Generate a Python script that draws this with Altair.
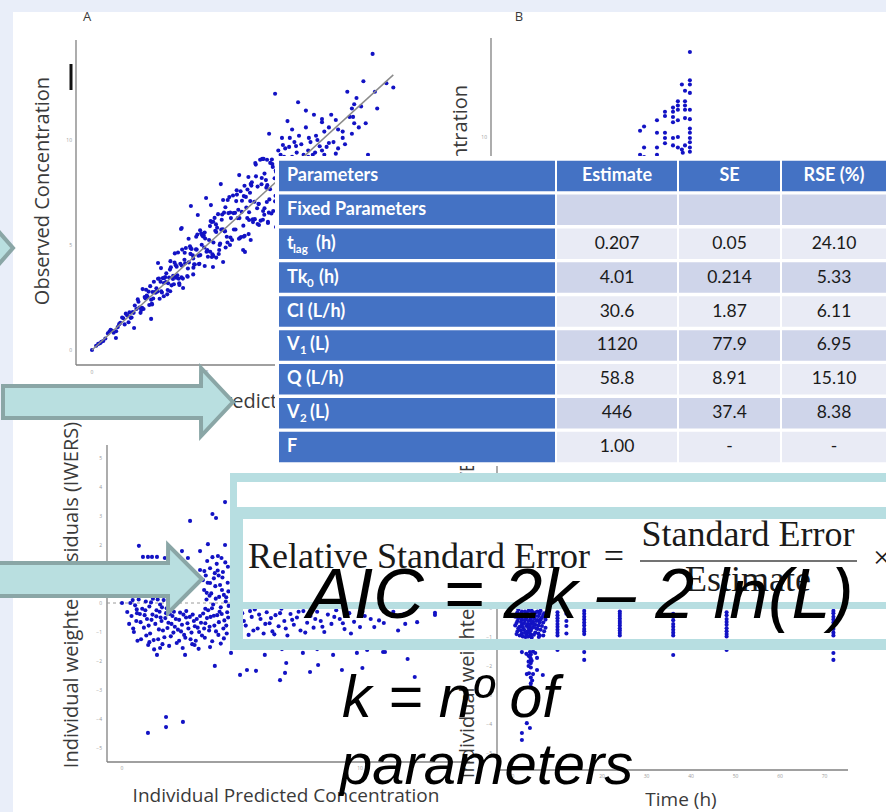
import altair as alt
import pandas as pd

W, H = 886, 812

# ------------------------------------------------------------------ data
# Panel A: observed vs individual predicted concentration (pred, obs)
a_outliers = [
    (0.00, 0.00), (1.04, 0.57), (1.83, 1.05), (2.57, 1.48), (2.87, 4.14), (3.13, 3.19), (3.65, 3.48), (3.87, 5.76),
    (3.90, 5.81), (3.96, 2.95), (4.30, 6.86), (4.60, 6.43), (4.96, 7.24), (5.17, 6.90), (5.26, 3.95), (5.27, 4.48),
    (5.60, 7.90), (5.70, 4.19), (5.70, 7.14), (6.40, 8.33), (6.43, 5.33), (6.57, 4.76), (6.65, 4.67), (6.80, 8.24),
    (6.83, 6.19), (6.90, 5.24), (7.10, 8.90), (7.26, 5.95), (7.40, 9.10), (7.43, 6.20), (7.60, 7.05), (7.65, 6.05),
    (7.65, 6.10), (8.00, 5.86), (8.00, 8.49),
]
a_band_1 = [
    (0.27, 0.29), (0.49, 0.43), (0.81, 0.96), (1.12, 1.09), (1.36, 1.51), (1.59, 1.32), (1.77, 1.81), (2.02, 2.30),
    (2.18, 2.01), (2.35, 2.87), (2.49, 2.14), (2.63, 2.76), (2.76, 2.73), (2.91, 3.40), (3.04, 2.74), (3.18, 3.47),
    (3.27, 2.65), (3.39, 3.83), (3.53, 3.53), (3.66, 3.44), (3.74, 4.64), (3.89, 3.46), (4.02, 4.30), (4.14, 3.52),
    (4.26, 4.94), (4.38, 4.51), (4.47, 4.07), (4.58, 5.50), (4.71, 4.52), (4.83, 5.41), (4.92, 5.31), (5.04, 4.44),
    (5.16, 6.14), (5.28, 5.12), (5.39, 5.98), (5.51, 4.57), (5.62, 5.73), (5.74, 6.54), (5.86, 5.39), (5.97, 7.28),
    (6.09, 5.24), (6.22, 6.53), (6.34, 6.28), (6.46, 7.56), (6.58, 5.92), (6.69, 7.29), (6.81, 5.52), (6.93, 7.83),
    (7.06, 7.06), (7.18, 6.75), (7.31, 9.06), (7.44, 6.62), (7.56, 8.09), (7.69, 6.54), (7.82, 9.07), (7.94, 8.18),
]
a_band_2 = [
    (0.41, 0.39), (0.69, 0.79), (0.94, 0.82), (1.23, 1.30), (1.47, 1.73), (1.68, 1.53), (1.93, 1.95), (2.11, 1.77),
    (2.29, 2.52), (2.42, 2.52), (2.57, 2.39), (2.69, 3.25), (2.84, 2.78), (2.98, 3.25), (3.12, 2.56), (3.23, 3.65),
    (3.35, 3.45), (3.46, 3.08), (3.59, 4.16), (3.71, 3.56), (3.84, 4.11), (3.95, 3.40), (4.08, 4.86), (4.21, 4.17),
    (4.33, 4.81), (4.44, 4.08), (4.55, 4.78), (4.67, 4.11), (4.79, 5.46), (4.88, 4.88), (5.01, 4.76), (5.13, 5.90),
    (5.24, 4.56), (5.36, 5.68), (5.48, 6.47), (5.57, 5.07), (5.69, 5.75), (5.81, 4.88), (5.93, 6.52), (6.04, 6.28),
    (6.17, 5.74), (6.29, 7.61), (6.41, 6.28), (6.52, 7.11), (6.64, 5.44), (6.76, 7.64), (6.88, 7.09), (6.99, 6.22),
    (7.13, 8.27), (7.24, 6.95), (7.37, 7.89), (7.49, 6.44), (7.61, 9.06), (7.74, 7.66), (7.86, 8.72), (7.98, 7.34),
]
a_band_3 = [
    (0.18, 0.20), (0.58, 0.55), (0.88, 0.91), (1.05, 0.89), (1.31, 1.55), (1.53, 1.64), (1.72, 1.55), (1.86, 2.12),
    (2.06, 2.02), (2.24, 1.95), (2.38, 2.59), (2.53, 3.04), (2.66, 2.45), (2.80, 2.94), (2.94, 2.44), (3.08, 3.42),
    (3.21, 3.24), (3.31, 3.18), (3.43, 3.94), (3.56, 3.13), (3.68, 3.97), (3.79, 3.18), (3.92, 4.78), (4.05, 4.13),
    (4.17, 3.88), (4.29, 4.85), (4.41, 3.92), (4.52, 4.79), (4.63, 4.49), (4.75, 5.56), (4.86, 5.44), (4.98, 4.68),
    (5.09, 5.24), (5.21, 4.43), (5.33, 6.29), (5.44, 5.82), (5.55, 5.00), (5.66, 6.45), (5.78, 5.66), (5.89, 5.12),
    (6.01, 6.55), (6.13, 7.36), (6.24, 5.74), (6.36, 6.68), (6.48, 5.38), (6.60, 7.33), (6.71, 6.78), (6.83, 6.56),
    (6.95, 7.99), (7.08, 6.23), (7.20, 7.78), (7.33, 6.16), (7.46, 9.10), (7.58, 7.73), (7.71, 7.17), (7.84, 8.86),
    (7.96, 7.08),
    (2.20, 2.90), (2.60, 2.20), (3.00, 3.90), (3.40, 2.80), (3.60, 4.60), (3.80, 3.10), (4.20, 5.30), (4.40, 3.60),
    (4.70, 5.70), (4.90, 4.00), (5.20, 6.10), (5.40, 4.40), (5.80, 6.80), (6.00, 5.00), (6.30, 7.40), (6.60, 5.40),
    (6.90, 7.90), (7.20, 6.00), (7.50, 8.40), (7.80, 6.50),
]
a_band_4 = [
    (0.35, 0.32), (0.76, 0.88), (1.18, 1.23), (1.42, 1.22), (1.63, 1.79), (1.81, 1.77), (1.99, 2.41), (2.14, 1.90),
    (2.32, 2.46), (2.46, 2.78), (2.61, 2.17), (2.73, 2.76), (2.87, 3.39), (3.01, 2.80), (3.15, 3.43), (3.29, 2.86),
    (3.41, 4.23), (3.52, 3.38), (3.64, 4.04), (3.77, 3.39), (3.90, 4.02), (4.03, 4.63), (4.16, 3.49), (4.28, 4.58),
    (4.40, 4.36), (4.53, 5.39), (4.65, 4.09), (4.77, 5.01), (4.90, 5.59), (5.02, 4.72), (5.14, 4.68), (5.27, 6.11),
    (5.40, 5.62), (5.53, 4.76), (5.64, 6.20), (5.77, 5.65), (5.90, 7.14), (6.02, 5.36), (6.15, 6.52), (6.27, 7.09),
    (6.39, 5.30), (6.51, 6.58), (6.63, 7.82), (6.75, 6.28), (6.87, 7.49), (7.00, 6.09), (7.12, 8.83), (7.25, 6.96),
    (7.38, 8.19), (7.50, 6.75), (7.62, 7.85), (7.75, 8.91), (7.88, 6.62), (7.99, 8.55),
]
a_upper = [
    (7.96, 12.20), (8.96, 11.80), (9.30, 11.40), (9.65, 11.20), (10.00, 11.00), (10.00, 10.85), (10.40, 11.20),
    (10.60, 10.95), (11.10, 12.30), (11.50, 12.00), (11.80, 12.80), (12.20, 14.10), (12.80, 12.70), (13.10, 12.50),
    (12.30, 12.30), (11.30, 11.50), (11.40, 11.70), (11.70, 11.60), (12.40, 11.50), (11.20, 11.10), (11.35, 11.10),
    (11.90, 10.80), (11.40, 10.80), (8.50, 10.90), (8.70, 10.50), (9.30, 10.60), (7.70, 10.30), (8.26, 10.10),
    (8.60, 10.10), (9.00, 10.20), (9.43, 10.10), (9.74, 10.20), (10.10, 10.40), (10.30, 10.60), (10.70, 10.50),
    (10.90, 10.10), (8.30, 9.76), (8.57, 9.67), (8.87, 9.71), (10.30, 9.86), (10.50, 9.90), (10.70, 9.60),
    (10.20, 9.67), (9.40, 9.50), (9.70, 9.40), (9.20, 9.30), (9.40, 9.20), (8.20, 9.30), (8.35, 9.20),
    (8.70, 9.20), (12.00, 9.30), (10.10, 9.30), (8.10, 9.50), (8.40, 9.60), (8.80, 9.90), (9.10, 9.80),
    (9.50, 9.90), (9.90, 9.70), (10.00, 9.50), (9.60, 9.30), (8.90, 9.40), (9.80, 10.00), (10.60, 9.35),
    (11.00, 9.80), (11.30, 10.30), (11.60, 10.60), (10.90, 10.40),
]
a_identity = [0.0, 13.1]

# Panel B: concentration vs time (h, conc)
b_points = [
    (41.1, 14.05), (41.1, 12.7), (41.1, 12.5), (39.3, 12.5), (40.0, 12.2), (41.1, 12.1), (38.4, 11.7), (38.4, 11.5),
    (40.0, 11.7), (40.0, 11.5), (37.3, 11.4), (37.3, 11.2), (38.4, 11.3), (40.0, 11.3), (41.1, 11.3), (35.5, 11.2),
    (35.5, 11.0), (33.7, 10.8), (37.3, 10.95), (37.3, 10.7), (38.4, 10.8), (40.0, 10.9), (41.1, 10.85), (30.8, 10.5),
    (29.9, 10.3), (33.7, 10.2), (35.5, 10.2), (35.5, 9.95), (35.5, 9.7), (37.3, 9.95), (38.4, 10.0), (41.1, 10.4),
    (41.1, 10.2), (41.1, 9.95), (41.1, 9.75), (30.8, 9.5), (33.7, 9.5), (33.7, 9.15), (37.3, 9.6), (38.4, 9.5),
    (39.3, 9.4), (40.0, 9.6), (41.1, 9.5), (41.1, 9.3), (39.5, 9.25), (29.9, 9.15), (30.8, 9.05),
]

# Panel C: IWRES vs individual predicted concentration
c_upper = [
    (4.33, 3.48), (3.80, 3.07), (3.95, 2.93), (2.86, 2.83), (0.71, 1.97), (0.88, 1.59), (1.09, 1.59), (1.26, 1.59),
    (1.47, 1.59), (2.52, 1.79), (3.28, 1.79), (3.61, 2.03), (4.33, 2.00), (4.03, 1.62), (1.80, 1.55), (2.10, 1.69),
    (2.77, 1.55), (3.70, 1.20), (3.90, 1.03), (4.24, 1.07), (3.28, 1.14), (3.40, 0.79), (3.70, 0.69), (0.55, 1.25),
    (1.20, 1.10), (2.30, 1.30), (2.95, 1.02),
    (3.45, 0.45), (3.55, 0.12), (3.62, -0.25), (3.75, 0.33), (3.83, -0.05), (3.92, 0.58), (4.00, -0.42), (4.08, 0.21),
    (4.15, -0.15), (4.22, 0.88), (4.30, -0.60), (4.36, 0.05), (4.42, -0.32), (4.47, 0.40), (3.50, -0.70), (3.66, -0.95),
    (3.88, -0.78), (4.05, -1.10), (4.26, -0.88), (4.40, -1.05), (3.58, 1.45), (3.98, 1.35), (4.18, 1.55), (4.45, 1.25),
    (3.72, -0.48), (4.12, 0.62), (3.52, 0.95),
    (3.46, 1.10), (3.60, 0.70), (3.68, 0.25), (3.78, -0.18), (3.86, 0.85), (3.94, 0.15), (4.02, 1.12), (4.10, -0.30),
    (4.20, 0.45), (4.28, 0.28), (4.34, 1.40), (4.44, 0.70), (4.48, -0.10), (3.56, 0.35), (3.80, 1.58), (4.06, 0.95),
    (4.38, 0.20), (3.50, -0.20),
]
c_left = [
    (0.00, 0.00), (0.35, 0.00), (0.55, -0.08), (0.70, 0.12), (0.85, -0.20), (1.00, 0.05), (1.15, -0.12), (1.30, 0.15),
    (1.45, -0.25), (1.60, -0.05), (1.75, 0.10), (1.88, -0.18), (0.40, -0.45), (0.60, -0.62), (0.75, -0.38), (0.92, -0.85),
    (1.05, -0.55), (1.18, -1.05), (1.28, -0.40), (1.40, -0.72), (1.52, -1.25), (1.62, -0.50), (1.72, -0.95), (1.85, -0.35),
    (1.95, -0.68), (2.05, -1.15), (2.12, -0.45), (2.22, -0.82), (2.30, -1.38), (2.40, -0.58), (2.48, -0.98), (2.58, -0.40),
    (2.66, -1.20), (2.75, -0.70), (2.85, -0.48), (2.92, -1.02), (3.02, -0.62), (3.10, -1.30), (3.18, -0.85), (3.28, -0.45),
    (3.36, -1.12), (0.50, -1.00), (0.80, -1.25), (1.10, -1.45), (1.35, -1.60), (1.98, -1.48), (2.55, -1.55), (2.95, -1.42),
    (3.22, -1.58), (0.30, -0.72), (1.58, -0.30), (2.18, -0.30), (2.70, -0.28), (3.45, -0.88),
    (0.22, -0.31), (0.47, -0.88), (0.63, -0.35), (0.78, -0.66), (0.95, -0.42), (1.02, -1.12), (1.12, -0.78), (1.24, -0.58),
    (1.33, -1.28), (1.44, -0.46), (1.55, -0.91), (1.66, -0.62), (1.78, -1.18), (1.82, -0.52), (1.91, -0.86), (2.01, -0.38),
    (2.08, -0.72), (2.16, -1.02), (2.26, -0.55), (2.35, -0.92), (2.44, -0.33), (2.52, -0.75), (2.61, -1.10), (2.69, -0.50),
    (2.79, -0.88), (2.88, -1.25), (2.97, -0.40), (3.06, -0.80), (3.14, -0.55), (3.24, -1.00), (3.32, -0.68), (3.41, -0.36),
    (3.48, -1.20), (3.57, -0.52), (3.68, -0.82), (3.79, -1.32), (3.86, -0.44), (3.95, -0.98), (4.07, -0.66), (4.19, -0.38),
    (4.28, -1.22), (4.38, -0.78), (4.46, -0.50), (1.15, -1.35), (1.70, -1.42), (2.40, -1.30), (3.05, -1.45), (3.70, -1.52),
    (4.15, -1.40), (0.65, -1.30), (0.45, 0.10), (0.62, -0.22), (0.98, -0.25), (1.22, 0.02), (1.50, 0.12), (1.68, -0.15),
]
c_right = [
    (4.65, -0.25), (4.80, -0.60), (4.95, -0.95), (5.05, -0.35), (5.20, -0.78), (5.32, -1.10), (5.45, -0.48), (5.58, -0.22),
    (5.70, -0.88), (5.82, -0.55), (5.95, -1.05), (6.08, -0.32), (6.20, -0.70), (6.32, -0.98), (6.45, -0.42), (6.58, -0.80),
    (6.70, -0.20), (6.82, -0.62), (6.95, -1.12), (7.08, -0.38), (7.22, -0.75), (7.35, -0.50), (7.50, -0.95), (7.62, -0.28),
    (7.78, -0.68), (7.92, -0.45), (8.05, -0.85), (8.20, -0.30), (8.35, -0.62), (8.50, -1.00), (8.65, -0.40), (8.80, -0.72),
    (9.00, -0.25), (9.15, -0.55), (9.35, -0.90), (9.55, -0.35), (9.75, -0.65), (10.00, -0.83), (10.20, -0.45), (10.60, -0.83),
    (11.00, -0.69), (11.40, -0.30), (11.85, -0.38), (11.90, -0.72), (12.40, -0.66), (13.15, -0.34), (13.15, -0.41), (10.45, -0.55),
    (4.72, -0.45), (4.88, -1.05), (5.12, -0.62), (5.38, -0.28), (5.52, -0.95), (5.76, -0.40), (6.02, -0.72), (6.26, -0.52),
    (6.40, -1.08), (6.64, -0.35), (6.88, -0.88), (7.15, -0.58), (7.42, -0.30), (7.70, -1.02), (8.12, -0.55), (8.42, -0.82),
    (8.92, -0.48), (9.28, -0.70), (9.62, -1.05), (10.10, -0.30), (10.80, -0.60), (11.60, -0.95),
]
c_lower = [
    (1.09, -4.48), (1.85, -3.93), (1.85, -4.28), (2.56, -4.10), (3.90, -2.17), (4.96, -2.48), (5.25, -2.31), (5.63, -2.34),
    (6.64, -2.66), (6.85, -2.41), (6.90, -2.07), (7.90, -2.38), (8.24, -2.14), (9.24, -2.31), (10.10, -2.24), (12.30, -2.55),
    (12.00, -1.93), (1.60, -1.55), (1.47, -1.79), (2.65, -1.79), (4.58, -1.72), (6.00, -1.79), (6.72, -1.59), (7.60, -1.72),
    (8.20, -1.59), (8.87, -1.79), (9.87, -1.72), (10.30, -1.62), (10.97, -1.69), (11.05, -1.69),
]

# Panel D: IWRES vs time (h)
d_early = [
    (1.0, -0.15), (1.0, -0.45), (1.0, -0.80), (1.5, -0.30), (1.5, -0.65), (1.5, -0.95), (2.0, -0.12), (2.0, -0.40),
    (2.0, -0.58), (2.0, -0.88), (2.5, -0.25), (2.5, -0.52), (2.5, -0.75), (3.0, -0.18), (3.0, -0.35), (3.0, -0.62),
    (3.0, -0.90), (3.5, -0.10), (3.5, -0.45), (3.5, -0.70), (3.5, -0.98), (4.0, -0.22), (4.0, -0.38), (4.0, -0.55),
    (4.0, -0.78), (4.0, -0.92), (4.5, -0.15), (4.5, -0.48), (4.5, -0.66), (5.0, -0.28), (5.0, -0.58), (5.0, -0.85),
    (5.5, -0.12), (5.5, -0.42), (5.5, -0.72), (6.0, -0.20), (6.0, -0.50), (6.0, -0.95), (6.5, -0.33), (6.5, -0.62),
    (7.0, -0.18), (7.0, -0.80), (0.5, -0.30), (0.5, -0.60), (1.2, -0.05), (2.8, -1.00), (4.2, -1.02), (5.8, -1.00),
    (3.3, -0.80), (4.8, -0.35),
    (0.8, -0.22), (0.8, -0.52), (0.8, -0.90), (1.2, -0.35), (1.2, -0.70), (1.8, -0.20), (1.8, -0.48), (1.8, -0.78),
    (2.2, -0.30), (2.2, -0.66), (2.2, -0.98), (2.7, -0.12), (2.7, -0.42), (2.7, -0.85), (3.2, -0.25), (3.2, -0.55),
    (3.2, -0.98), (3.7, -0.30), (3.7, -0.60), (3.7, -0.85), (4.2, -0.10), (4.2, -0.46), (4.2, -0.70), (4.7, -0.25),
    (4.7, -0.56), (4.7, -0.92), (5.2, -0.15), (5.2, -0.45), (5.2, -0.70), (5.7, -0.28), (5.7, -0.60), (5.7, -0.88),
    (6.2, -0.10), (6.2, -0.40), (6.2, -0.75), (6.8, -0.25), (6.8, -0.50), (6.8, -0.95), (7.3, -0.40), (7.3, -0.68),
    (2.0, -1.52), (3.8, -1.52), (5.4, -1.72), (5.4, -2.14), (3.1, -2.28), (4.5, -2.28), (6.7, -2.31), (3.1, -3.97),
    (3.8, -4.14), (2.0, -4.31), (2.0, -4.55), (4.0, -1.60), (4.0, -1.75), (4.0, -1.90), (4.0, -2.05), (4.0, -2.40),
    (4.0, -2.60), (4.0, -2.72), (3.5, -1.65), (3.5, -1.85), (3.5, -2.00), (4.5, -1.50), (3.0, -1.58), (5.0, -1.55),
    (3.8, -1.68), (4.2, -1.82), (3.6, -2.25), (4.3, -2.50),
]
d_late = [
    (10, -0.15), (10, -0.25), (10, -0.35), (10, -0.45), (10, -0.55), (10, -0.65), (10, -0.75), (10, -0.85),
    (10, -0.95), (10, -1.45),
    (12, -0.20), (12, -0.45), (12, -0.62), (12, -0.88),
    (16, -0.10), (16, -0.20), (16, -0.30), (16, -0.40), (16, -0.50), (16, -0.60), (16, -0.72), (16, -0.80),
    (16, -0.90), (16, -1.52), (16, -1.79),
    (24, -0.12), (24, -0.20), (24, -0.28), (24, -0.36), (24, -0.45), (24, -0.52), (24, -0.60), (24, -0.70),
    (24, -0.78), (24, -0.86), (24, -0.95),
    (36, -0.20), (36, -0.30), (36, -0.42), (36, -0.55), (36, -0.65), (36, -0.75), (36, -0.85), (36, -0.95),
    (36, -1.62),
    (48, -0.15), (48, -0.25), (48, -0.38), (48, -0.48), (48, -0.58), (48, -0.70), (48, -0.80), (48, -0.90),
    (48, -0.98), (48, -1.45),
    (72, -0.10), (72, -0.18), (72, -0.30), (72, -0.40), (72, -0.50), (72, -0.62), (72, -0.72), (72, -0.85),
    (72, -0.95), (72, -1.55), (72, -1.79),
]

a_xticks = [0, 5]
a_yticks = [0, 5, 10]
b_yticks = [10]
c_xticks = [0, 10]
c_yticks = [5, 4, 3, 2, 1, 0, -1, -2, -3, -4, -5]
d_xticks = [0, 10, 20, 30, 40, 50, 60, 70]
d_yticks = [0, -1, -2, -3, -4, -5]

# parameter table
param_main = ["Parameters", "Fixed Parameters", "t", "Tk", "Cl (L/h)", "V", "Q (L/h)", "V", "F"]
param_sub = ["", "", "lag", "0", "", "1", "", "2", ""]
param_tail = ["", "", "(h)", "(h)", "", "(L)", "", "(L)", ""]
col_estimate = ["Estimate", "", "0.207", "4.01", "30.6", "1120", "58.8", "446", "1.00"]
col_se = ["SE", "", "0.05", "0.214", "1.87", "77.9", "8.91", "37.4", "-"]
col_rse = ["RSE (%)", "", "24.10", "5.33", "6.11", "6.95", "15.10", "8.38", "-"]

# ------------------------------------------------------------------ styles
BG = "#E9EEF9"
PT = "#1212C4"
AX = "#808080"
TICK = "#9a9a9a"
LAB = "#3a3a3a"
TEAL = "#B7DEE1"
ARROW_FILL = "#B9DFE0"
ARROW_STROKE = "#8AA6A6"
TBL_BLUE = "#4472C4"
UIF = "Open Sans"
TF = "Lato"
SERIF = "Liberation Serif"

one = pd.DataFrame({"k": [0]})


def rect(x0, x1, y0, y1, color):
    return alt.Chart(one).mark_rect(color=color).encode(
        x=alt.value(x0), x2=alt.value(x1), y=alt.value(y0), y2=alt.value(y1))


def rule(x0, x1, y0, y1, color, width=1.0):
    return alt.Chart(one).mark_rule(color=color, strokeWidth=width).encode(
        x=alt.value(x0), x2=alt.value(x1), y=alt.value(y0), y2=alt.value(y1))


def text(s, x, y, size, color=LAB, font=UIF, angle=0, align="center",
         baseline="middle", weight="normal", style="normal"):
    return alt.Chart(one).mark_text(
        text=s, font=font, fontSize=size, color=color, angle=angle, align=align,
        baseline=baseline, fontWeight=weight, fontStyle=style
    ).encode(x=alt.value(x), y=alt.value(y))


def sc(domain, rng):
    return alt.Scale(domain=domain, range=rng, nice=False, zero=False)


def scatter(points, xs, ys):
    df = pd.DataFrame(points, columns=["px", "py"])
    return alt.Chart(df).mark_circle(size=17, color=PT, opacity=1).encode(
        x=alt.X("px:Q", scale=xs, axis=None), y=alt.Y("py:Q", scale=ys, axis=None))


def xtick_labels(ticks, xs, ypix):
    return alt.Chart(pd.DataFrame({"v": ticks})).mark_text(
        fontSize=5, color=TICK, baseline="top", font=UIF).encode(
        x=alt.X("v:Q", scale=xs, axis=None), y=alt.value(ypix), text="v:Q")


def ytick_labels(ticks, ys, xpix):
    return alt.Chart(pd.DataFrame({"v": ticks})).mark_text(
        fontSize=5, color=TICK, align="right", font=UIF).encode(
        y=alt.Y("v:Q", scale=ys, axis=None), x=alt.value(xpix), text="v:Q")


# ------------------------------------------------------------------ panel A
axs = sc([0, 5], [92, 207])
ays = sc([0, 10], [350, 140])
panel_a = alt.layer(
    scatter(a_outliers + a_band_1 + a_band_2 + a_band_3 + a_band_4 + a_upper, axs, ays),
    alt.Chart(pd.DataFrame({"v": a_identity})).mark_line(color="#8a8a8a", strokeWidth=1.5).encode(
        x=alt.X("v:Q", scale=axs, axis=None), y=alt.Y("v:Q", scale=ays, axis=None)),
    xtick_labels(a_xticks, axs, 370),
    ytick_labels(a_yticks, ays, 72),
)

# ------------------------------------------------------------------ panel B
bxs = sc([30, 40], [640.5, 685])
bys = sc([0, 10], [347, 137])
panel_b = alt.layer(
    scatter(b_points, bxs, bys),
    ytick_labels(b_yticks, bys, 487),
)

# ------------------------------------------------------------------ panel C
cxs = sc([0, 10], [122, 360])
cys = sc([0, 5], [603, 458])
panel_c = alt.layer(
    alt.Chart(pd.DataFrame({"v": [0]})).mark_rule(color="#9a9a9a", strokeDash=[3, 3], strokeWidth=1).encode(
        y=alt.Y("v:Q", scale=cys, axis=None), x=alt.value(107), x2=alt.value(470)),
    scatter(c_upper + c_left + c_right + c_lower, cxs, cys),
    xtick_labels(c_xticks, cxs, 766),
    ytick_labels(c_yticks, cys, 102),
)

# ------------------------------------------------------------------ panel D
dxs = sc([0, 70], [513, 824.5])
dys = sc([0, -5], [608, 753])
panel_d = alt.layer(
    scatter(d_early + d_late, dxs, dys),
    xtick_labels(d_xticks, dxs, 774),
    ytick_labels(d_yticks, dys, 492),
)

# ------------------------------------------------------------------ arrows (decoration)
pix_x = alt.Scale(domain=[0, W], range=[0, W], nice=False, zero=False)
pix_y = alt.Scale(domain=[0, H], range=[0, H], nice=False, zero=False)
arrow_shapes = [
    [(-60, 225, 271), (-22, 225, 271), (-21.9, 208, 288), (13, 248, 248)],
    [(3, 386, 418), (201, 386, 418), (201.1, 368, 436), (233, 402, 402)],
    [(-40, 563, 596), (168, 563, 596), (168.1, 545, 613), (202, 579, 579)],
]
arrow_layers = []
for shp in arrow_shapes:
    adf = pd.DataFrame(shp, columns=["ax", "atop", "abot"])
    arrow_layers.append(
        alt.Chart(adf).mark_area(fill=ARROW_FILL, stroke=ARROW_STROKE, strokeWidth=4,
                                 opacity=1, interpolate="linear").encode(
            x=alt.X("ax:Q", scale=pix_x, axis=None),
            y=alt.Y("atop:Q", scale=pix_y, axis=None),
            y2="abot:Q"))
arrows = alt.layer(*arrow_layers)

# ------------------------------------------------------------------ table
tbl = pd.DataFrame({"row": list(range(9)), "main": param_main, "sub": param_sub, "tail": param_tail,
                    "est": col_estimate, "se": col_se, "rse": col_rse})
tbl["shade"] = ["head"] + ["dark" if i % 2 else "light" for i in range(1, 9)]
ROWY = alt.Y("row:O", scale=alt.Scale(domain=list(range(9)), range=[159, 464],
                                      paddingInner=0.1, paddingOuter=0.05), axis=None)
shade = alt.Color("shade:N", scale=alt.Scale(domain=["head", "dark", "light"],
                                             range=[TBL_BLUE, "#CFD5EA", "#E9EBF5"]), legend=None)
tb = alt.Chart(tbl)
tbl_layers = [tb.mark_rect(color=TBL_BLUE).encode(y=ROWY, x=alt.value(279), x2=alt.value(555))]
for x0, x1 in [(557, 677), (679, 780), (782, 886)]:
    tbl_layers.append(tb.mark_rect().encode(y=ROWY, x=alt.value(x0), x2=alt.value(x1), color=shade))
tbl_layers.append(tb.mark_text(align="left", font=TF, fontSize=18, fontWeight="bold", color="white").encode(
    y=ROWY, x=alt.value(287), text="main:N"))
for field, cx in [("est", 617), ("se", 729.5), ("rse", 834)]:
    tbl_layers.append(tb.transform_filter("datum.row == 0").mark_text(
        font=TF, fontSize=18, fontWeight="bold", color="white").encode(
        y=ROWY, x=alt.value(cx), text=f"{field}:N"))
    tbl_layers.append(tb.transform_filter("datum.row > 0").mark_text(
        font=TF, fontSize=17.5, color="#1a1a1a").encode(
        y=ROWY, x=alt.value(cx), text=f"{field}:N"))
sub_layout = {2: (293, 316), 3: (307, 319), 5: (300, 310), 7: (300, 310)}
for r, (sx, tx) in sub_layout.items():
    tbl_layers.append(tb.transform_filter(f"datum.row == {r}").mark_text(
        align="left", font=TF, fontSize=11.5, fontWeight="bold", color="white", dy=6).encode(
        y=ROWY, x=alt.value(sx), text="sub:N"))
    tbl_layers.append(tb.transform_filter(f"datum.row == {r}").mark_text(
        align="left", font=TF, fontSize=18, fontWeight="bold", color="white").encode(
        y=ROWY, x=alt.value(tx), text="tail:N"))
table = alt.layer(*tbl_layers)

# ------------------------------------------------------------------ assemble
layers = [
    rect(13, W, 12, H, "white"),
    # axes lines
    rule(76, 76, 40, 365, AX, 1.3), rule(76, 430, 365, 365, AX, 1.3),
    rule(491, 491, 38, 160, AX, 1.3),
    rule(107, 107, 445, 762, AX, 1.3), rule(107, 470, 762, 762, AX, 1.3),
    rule(497, 497, 463, 770, AX, 1.3), rule(497, 848, 770, 770, AX, 1.3),
    rule(71, 71, 64, 90, "#111111", 3),
    # panel titles and axis titles
    text("A", 87, 17, 13), text("B", 519, 17, 13),
    text("Observed Concentration", 43, 191, 20, angle=270),
    text("Observed Concentration", 461, 199, 20, angle=270),
    text("Individual Predicted Concentration", 116, 402, 20, align="left"),
    text("Individual weighted residuals (IWERS)", 72, 595, 20, angle=270),
    text("Individual Predicted Concentration", 286, 796, 19),
    text("Individual weighted residuals (IWERS)", 468, 605, 20, angle=270),
    text("Time (h)", 681, 800, 19),
    panel_a, panel_b, panel_c, panel_d,
    arrows,
    rect(275, W, 156, 466, "white"),
    table,
    # formula boxes
    rect(237, W, 482, 507, "white"),
    rect(230, W, 473, 482, TEAL),
    rect(230, 237, 473, 650, TEAL),
    rect(237, 243, 507, 650, TEAL),
    rect(237, W, 507, 519, TEAL),
    rect(243, W, 519, 602, "white"),
    rect(237, W, 602, 609, TEAL),
    rect(230, W, 639, 650, TEAL),
    text("Relative Standard Error", 248, 568, 36, color="#1a1a1a", font=SERIF,
         align="left", baseline="alphabetic"),
    text("=", 614, 568, 36, color="#1a1a1a", font=SERIF, baseline="alphabetic"),
    text("Standard Error", 748, 546, 36, color="#1a1a1a", font=SERIF, baseline="alphabetic"),
    rule(640, 857, 561, 561, "#444444", 1.5),
    text("Estimate", 748, 591, 36, color="#1a1a1a", font=SERIF, baseline="alphabetic"),
    text("×", 873, 568, 32, color="#1a1a1a", font=SERIF, align="left", baseline="alphabetic"),
    # AIC
    text("AIC = 2k – 2 ln(L)", 307, 618, 70, color="black", font="Liberation Sans",
         align="left", baseline="alphabetic", style="italic"),
    text("k = nº of", 342, 717, 59, color="black", font="Liberation Sans",
         align="left", baseline="alphabetic", style="italic"),
    text("parameters", 340, 784, 58, color="black", font="Liberation Sans",
         align="left", baseline="alphabetic", style="italic"),
]

chart = alt.layer(*layers).resolve_scale(
    x="independent", y="independent"
).properties(
    width=W, height=H, padding=0, background=BG,
    autosize=alt.AutoSizeParams(type="none"),
).configure_view(stroke=None)

chart.save("out.html", embed_options={"renderer": "svg", "actions": False})
